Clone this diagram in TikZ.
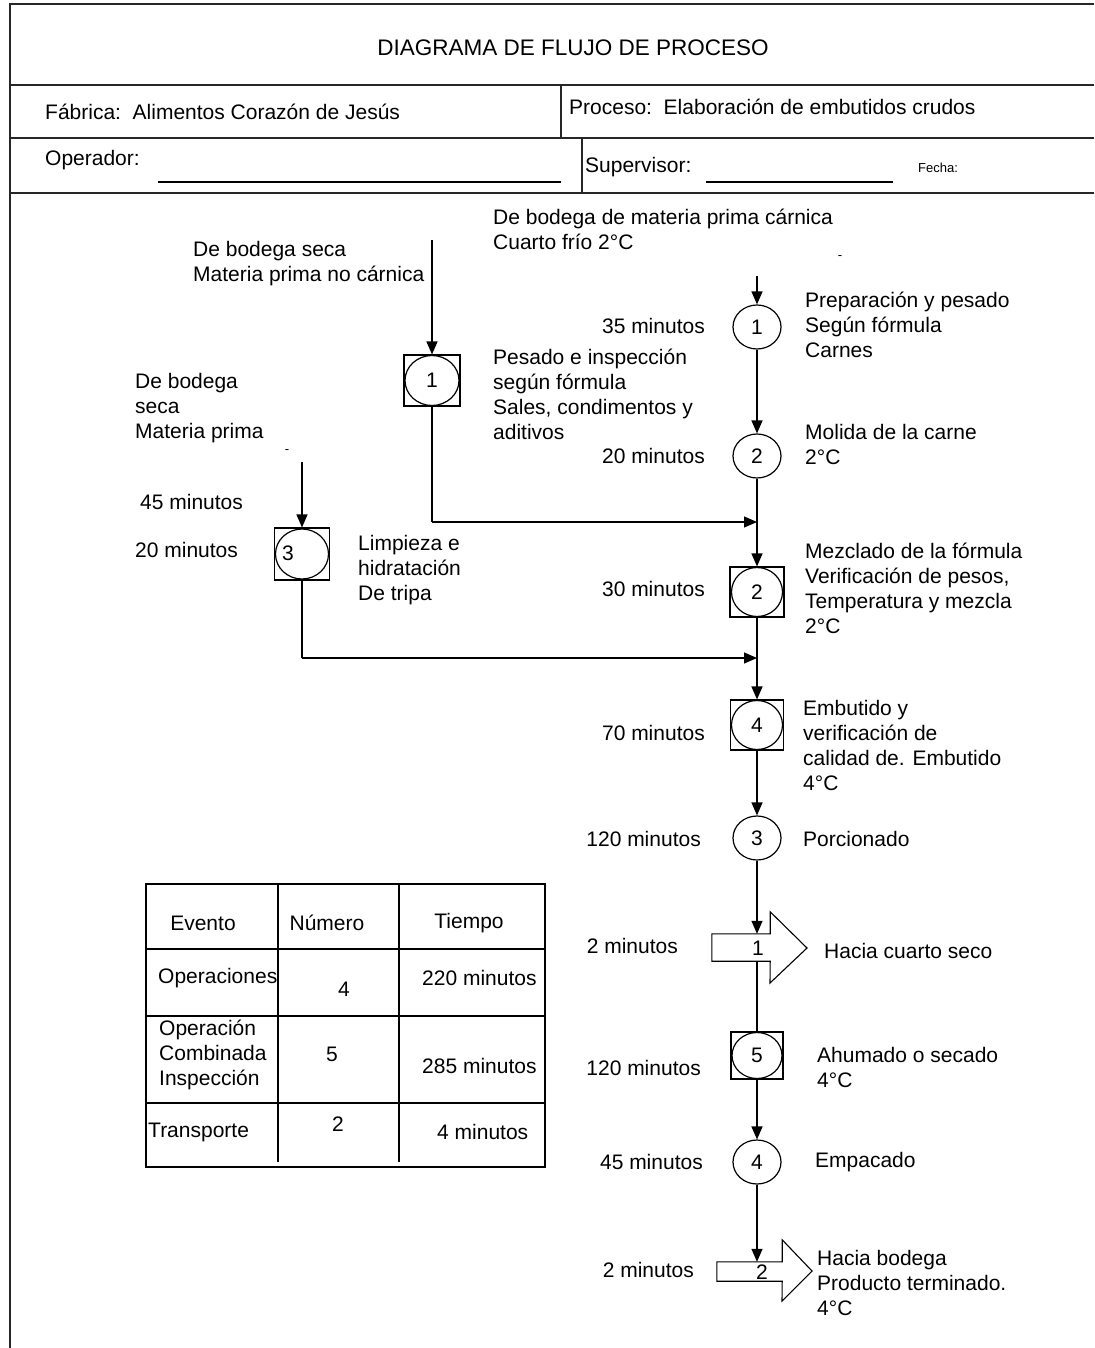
\documentclass[tikz,border=0pt]{standalone}
\usepackage{fontspec}
\setmainfont{Liberation Sans}
\usetikzlibrary{arrows.meta,shapes.geometric}
\begin{document}
\begin{tikzpicture}[x=1pt,y=-1pt,
  every node/.style={font=\fontsize{21}{25}\selectfont, inner sep=0pt},
  lbl/.style={align=left, anchor=west},
  rlbl/.style={anchor=east},
  frame/.style={line width=1.4pt, draw=black!85},
  flow/.style={line width=1.3pt},
  arr/.style={flow, -{Triangle[length=13pt,width=11pt]}},
  op/.style={ellipse, draw, line width=1.2pt, fill=white, minimum width=48pt, minimum height=44pt},
  sqbox/.style={rectangle, draw, line width=1.1pt, fill=white, minimum width=54pt, minimum height=50pt},
  combell/.style={ellipse, draw, line width=1.2pt, minimum width=51pt, minimum height=49pt},
  tport/.style={rectangle, minimum width=58pt, minimum height=27pt},
  tline/.style={line width=1.1pt},
  small/.style={font=\fontsize{13}{15}\selectfont}
]
\useasboundingbox (0,0) rectangle (1094,1348);
\fill[white] (0,0) rectangle (1094,1348);

% ---------- header frame ----------
\draw[frame] (1094,4) -- (10,4) -- (10,1348);
\draw[frame] (10,85) -- (1094,85);
\draw[frame] (10,138) -- (1094,138);
\draw[frame] (10,193) -- (1094,193);
\draw[frame] (561,85) -- (561,138);
\draw[frame] (582,138) -- (582,193);
\draw[line width=1.2pt] (158,182) -- (561,182);
\draw[line width=1.2pt] (706,182) -- (893,182);

\node[font=\fontsize{22.5}{26}\selectfont] (title) at (573,48) {DIAGRAMA DE FLUJO DE PROCESO};
\node[lbl] (fab) at (45,112) {Fábrica:\ \ Alimentos Corazón de Jesús};
\node[lbl] (proc) at (569,107) {Proceso:\ \ Elaboración de embutidos crudos};
\node[lbl] (oper) at (45,160) {Operador:};
\node[lbl] (sup) at (585,167) {Supervisor:};
\node[lbl, small] (fecha) at (918,168) {Fecha:};

% ---------- main column symbols ----------
\node[op] (r1) at (757,327) {1};
\node[op] (r2) at (757,456) {2};
\node[sqbox] (c2) at (757,592) {};
\node[combell] (c2e) at (c2) {2};
\node[sqbox, minimum width=53pt] (c4) at (757,725) {};
\node[combell] (c4e) at (c4) {4};
\node[op] (r3) at (757,838) {3};
\node[tport] (t1) at (741,947.5) {};
\node[sqbox, minimum width=52pt, minimum height=47pt] (c5) at (757,1055.5) {};
\node[combell, minimum width=50pt, minimum height=46pt] (c5e) at (c5) {5};
\node[op] (r4) at (757,1162) {4};
\node[tport, minimum width=65pt, minimum height=19pt] (t2) at (749.5,1271.5) {};

% transport block arrows
\draw[tline, fill=white] (t1.north west) -- (t1.north east) -- ++(0,-22) -- (807,948) -- (770,983) -- (t1.south east) -- (t1.south west) -- cycle;
\node (t1n) at (758,948) {1};
\draw[tline, fill=white] (t2.north west) -- (t2.north east) -- ++(0,-22) -- (812,1271) -- (782,1301) -- (t2.south east) -- (t2.south west) -- cycle;
\node (t2n) at (762,1272) {2};

% ---------- left branch 1 ----------
\node[sqbox, minimum width=56pt, minimum height=51pt] (c1) at (432,380.5) {};
\node[combell, minimum width=54pt, minimum height=50pt] (c1e) at (c1) {1};
% ---------- left branch 3 ----------
\node[sqbox, minimum width=55pt, minimum height=52pt] (c3) at (302,554) {};
\node[combell, minimum width=53pt, minimum height=50pt] (c3e) at (c3) {};
\node (c3n) at (288,553) {3};

% ---------- connectors ----------
\coordinate (sR) at (757,276);
\coordinate (s1) at (432,240);
\coordinate (s3) at (302,462);
\coordinate (j1a) at (432,522);
\coordinate (j1b) at (757,522);
\coordinate (j2a) at (302,658);
\coordinate (j2b) at (757,658);

\draw[arr] (sR) -- (r1.north);
\draw[arr] (r1.south) -- (r2.north);
\draw[arr] (r2.south) -- (c2.north);
\draw[arr] (c2.south) -- (c4.north);
\draw[arr] (c4.south) -- (r3.north);
\draw[arr] (r3.south) -- (r3.south |- t1.north);
\draw[flow] (c5.north |- t1.south) -- (c5.north);
\draw[arr] (c5.south) -- (r4.north);
\draw[arr] (r4.south) -- (r4.south |- t2.north);

\draw[arr] (s1) -- (c1.north);
\draw[flow] (c1.south) -- (j1a);
\draw[arr] (j1a) -- (j1b);
\draw[arr] (s3) -- (c3.north);
\draw[flow] (c3.south) -- (j2a);
\draw[arr] (j2a) -- (j2b);

% ---------- labels ----------
\node[lbl] (src) at (493,229.5) {De bodega de materia prima cárnica\\Cuarto frío 2°C};
\node[small] (tick1) at (840,258) {-};
\node[lbl] (src1) at (193,263.5) {De bodega seca\\Materia prima no cárnica};
\node[lbl] (p1) at (493,394.5) {Pesado e inspección\\según fórmula\\Sales, condimentos y\\aditivos};
\node[lbl] (src3) at (135,408) {De bodega\\seca\\Materia prima};
\node[small] (tick2) at (287,452) {-};
\node[lbl] (m45) at (140,502) {45 minutos};
\node[lbl] (m20) at (135,550) {20 minutos};
\node[lbl] (p3) at (358,570) {Limpieza e\\hidratación\\De tripa};

\node[rlbl] (m1) at (705,326) {35 minutos};
\node[rlbl] (m2) at (705,456) {20 minutos};
\node[rlbl] (m3) at (705,589) {30 minutos};
\node[rlbl] (m4) at (705,733) {70 minutos};
\node[rlbl] (m5) at (701,839) {120 minutos};
\node[rlbl] (m6) at (678,946) {2 minutos};
\node[rlbl] (m7) at (701,1068) {120 minutos};
\node[rlbl] (m8) at (703,1162) {45 minutos};
\node[rlbl] (m9) at (694,1270) {2 minutos};

\node[lbl] (d1) at (805,325) {Preparación y pesado\\Según fórmula\\Carnes};
\node[lbl] (d2) at (805,444.5) {Molida de la carne\\2°C};
\node[lbl] (d3) at (805,588.5) {Mezclado de la fórmula\\Verificación de pesos,\\Temperatura y mezcla\\2°C};
\node[lbl] (d4) at (803,745) {Embutido y\\verificación de\\calidad de. Embutido\\4°C};
\node[lbl] (d5) at (803,839) {Porcionado};
\node[lbl] (d6) at (824,951) {Hacia cuarto seco};
\node[lbl] (d7) at (817,1067.5) {Ahumado o secado\\4°C};
\node[lbl] (d8) at (815,1162) {Empacado};
\node[lbl] (d9) at (817,1282.5) {Hacia bodega\\Producto terminado.\\4°C};

% ---------- summary table ----------
\draw[line width=1.2pt] (146,884) rectangle (545,1167);
\draw[line width=1.1pt] (146,949) -- (545,949);
\draw[line width=1.1pt] (146,1016) -- (545,1016);
\draw[line width=1.1pt] (146,1103) -- (545,1103);
\draw[line width=1.1pt] (278,884) -- (278,1162);
\draw[line width=1.1pt] (399,884) -- (399,1162);

\node (h1) at (203,923) {Evento};
\node (h2) at (327,923) {Número};
\node (h3) at (469,923) {Tiempo};
\node[lbl] (e1) at (158,978) {Operaciones};
\node (n1) at (344,989) {4};
\node[lbl] (k1) at (422,978) {220 minutos};
\node[lbl] (e2) at (159,1055) {Operación\\Combinada\\Inspección};
\node (n2) at (332,1054) {5};
\node[lbl] (k2) at (422,1066) {285 minutos};
\node[lbl] (e3) at (148,1132) {Transporte};
\node (n3) at (338,1124) {2};
\node[lbl] (k3) at (437,1132) {4 minutos};
\end{tikzpicture}
\end{document}
